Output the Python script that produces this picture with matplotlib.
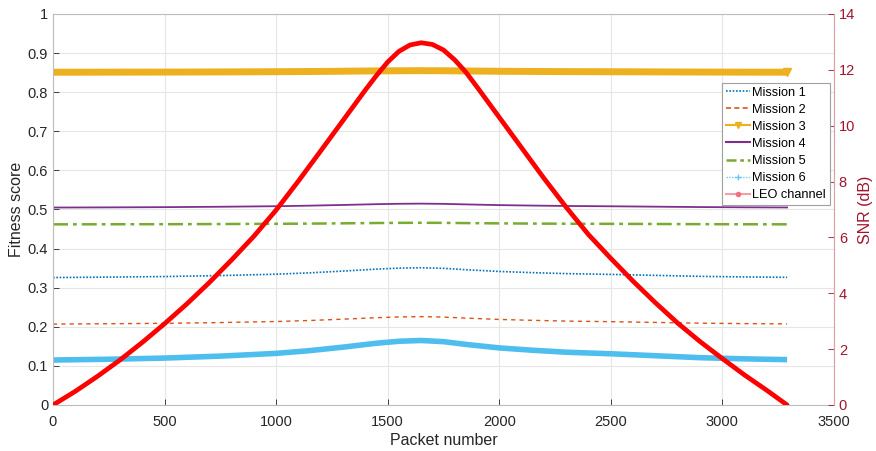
import matplotlib
matplotlib.use("Agg")
import matplotlib.pyplot as plt
from matplotlib.lines import Line2D

plt.rcParams["font.family"] = ["Liberation Sans", "DejaVu Sans"]

# Packet positions where the fitness curves are sampled
fit_packets = [0, 250, 500, 750, 1000, 1150, 1300, 1450, 1550, 1650,
               1750, 1850, 2000, 2150, 2300, 2500, 2700, 2900, 3100, 3290]

mission1 = [0.326, 0.327, 0.3285, 0.331, 0.3345, 0.338, 0.3425, 0.3475, 0.350, 0.351,
            0.3495, 0.346, 0.3415, 0.3385, 0.336, 0.334, 0.3315, 0.329, 0.3275, 0.3265]
mission2 = [0.207, 0.2078, 0.2089, 0.2108, 0.2135, 0.2161, 0.2195, 0.2233, 0.2252, 0.226,
            0.2249, 0.2222, 0.2188, 0.2165, 0.2146, 0.2131, 0.2112, 0.2093, 0.2081, 0.2074]
mission3 = [0.851, 0.8512, 0.8514, 0.8518, 0.8524, 0.8529, 0.8536, 0.8544, 0.8548, 0.855,
            0.8548, 0.8542, 0.8535, 0.853, 0.8526, 0.8523, 0.8519, 0.8515, 0.8512, 0.8511]
mission4 = [0.505, 0.5054, 0.506, 0.507, 0.5084, 0.5098, 0.5116, 0.5136, 0.5146, 0.515,
            0.5144, 0.513, 0.5112, 0.510, 0.509, 0.5082, 0.5072, 0.5062, 0.5056, 0.5052]
mission5 = [0.462, 0.4622, 0.4624, 0.4628, 0.4634, 0.4639, 0.4646, 0.4654, 0.4658, 0.466,
            0.4658, 0.4652, 0.4645, 0.464, 0.4636, 0.4633, 0.4629, 0.4625, 0.4622, 0.4621]
mission6 = [0.115, 0.117, 0.120, 0.125, 0.132, 0.139, 0.148, 0.158, 0.163, 0.165,
            0.162, 0.155, 0.146, 0.140, 0.135, 0.131, 0.126, 0.121, 0.118, 0.116]

# SNR of the LEO channel over the pass
snr_packets = [0, 100, 200, 300, 400, 500, 600, 700, 800, 900, 1000, 1100, 1200,
               1300, 1400, 1450, 1500, 1550, 1600, 1650, 1700, 1750, 1800, 1850,
               1900, 2000, 2100, 2200, 2300, 2400, 2500, 2600, 2700, 2800, 2900,
               3000, 3100, 3200, 3290]
snr_db = [0.0, 0.49, 1.03, 1.61, 2.24, 2.91, 3.62, 4.38, 5.19, 6.04, 6.98, 8.02, 9.1,
          10.19, 11.28, 11.8, 12.28, 12.66, 12.89, 12.97, 12.91, 12.71, 12.36, 11.92,
          11.39, 10.3, 9.21, 8.12, 7.08, 6.1, 5.25, 4.43, 3.66, 2.93, 2.27,
          1.66, 1.07, 0.52, 0.0]

xticks = [0, 500, 1000, 1500, 2000, 2500, 3000, 3500]
yticks_left = [0, 0.1, 0.2, 0.3, 0.4, 0.5, 0.6, 0.7, 0.8, 0.9, 1]
yticks_right = [0, 2, 4, 6, 8, 10, 12, 14]

c1, c2, c3, c4, c5, c6 = "#0072BD", "#D95319", "#EDB120", "#7E2F8E", "#77AC30", "#4DBEEE"
snr_color = "#A2142F"

fig = plt.figure(figsize=(8.76, 4.51), dpi=100)
ax = fig.add_axes([0.0605, 0.102, 0.8915, 0.867])

ax.plot(fit_packets, mission1, color=c1, ls=(0, (1, 1)), lw=1.2)
ax.plot(fit_packets, mission2, color=c2, ls=(0, (3, 3)), lw=1.0)
ax.plot(fit_packets, mission3, color=c3, lw=5.0, solid_capstyle="butt")
ax.plot(fit_packets[-1:], mission3[-1:], color=c3, marker="v", ms=6, ls="none")
ax.plot(fit_packets, mission4, color=c4, lw=1.3)
ax.plot(fit_packets, mission5, color=c5, ls=(0, (6, 2, 1.5, 2)), lw=1.8)
ax.plot(fit_packets, mission6, color=c6, lw=4.0, solid_capstyle="butt")

ax.set_xlim(0, 3500)
ax.set_ylim(0, 1)
ax.set_xticks(xticks)
ax.set_yticks(yticks_left)
ax.set_yticklabels(["0", "0.1", "0.2", "0.3", "0.4", "0.5", "0.6", "0.7", "0.8", "0.9", "1"])
ax.grid(True, color="#E6E6E6", lw=0.8)
ax.set_axisbelow(True)
ax.tick_params(direction="in", labelsize=10.5, colors="#262626", length=4, width=0.6)
ax.tick_params(axis="x", pad=7)
for s in ax.spines.values():
    s.set_color("#BDBDBD")
    s.set_linewidth(0.8)
ax.set_xlabel("Packet number", fontsize=11.5, color="#262626", labelpad=3)
ax.set_ylabel("Fitness score", fontsize=11.5, color="#262626", labelpad=3)

ax2 = ax.twinx()
ax2.plot(snr_packets, snr_db, color="#FF0000", lw=3.4,
         solid_joinstyle="round", solid_capstyle="round")
ax2.set_ylim(0, 14)
ax2.set_yticks(yticks_right)
ax2.tick_params(direction="in", labelsize=10.5, colors=snr_color, length=4, width=0.6)
ax2.spines["right"].set_color("#DDA0AA")
for side in ("left", "top", "bottom"):
    ax2.spines[side].set_visible(False)
ax2.set_ylabel("SNR (dB)", fontsize=11.5, color=snr_color, labelpad=2)

handles = [
    Line2D([], [], color=c1, ls=(0, (1, 1)), lw=1.2),
    Line2D([], [], color=c2, ls=(0, (3, 2)), lw=1.2),
    Line2D([], [], color=c3, lw=1.5, marker="v", ms=5),
    Line2D([], [], color=c4, lw=1.5),
    Line2D([], [], color=c5, ls=(0, (4, 1.5, 1.5, 1.5)), lw=1.8),
    Line2D([], [], color=c6, ls=(0, (1, 1)), lw=1.0, marker="+", ms=5, alpha=0.8),
    Line2D([], [], color="#F2A0A8", lw=1.5, marker=".", ms=6, mfc="#F07080", mec="#F07080"),
]
labels = ["Mission 1", "Mission 2", "Mission 3", "Mission 4", "Mission 5", "Mission 6", "LEO channel"]
leg = ax2.legend(handles, labels, loc="upper left", bbox_to_anchor=(0.857, 0.824),
                 fontsize=9.2, frameon=True, fancybox=False, framealpha=1,
                 edgecolor="#A0A0A0", borderpad=0.3, labelspacing=0.4,
                 handlelength=1.9, handletextpad=0.15, borderaxespad=0)
leg.get_frame().set_linewidth(0.8)

fig.savefig("out.png", dpi=100)
